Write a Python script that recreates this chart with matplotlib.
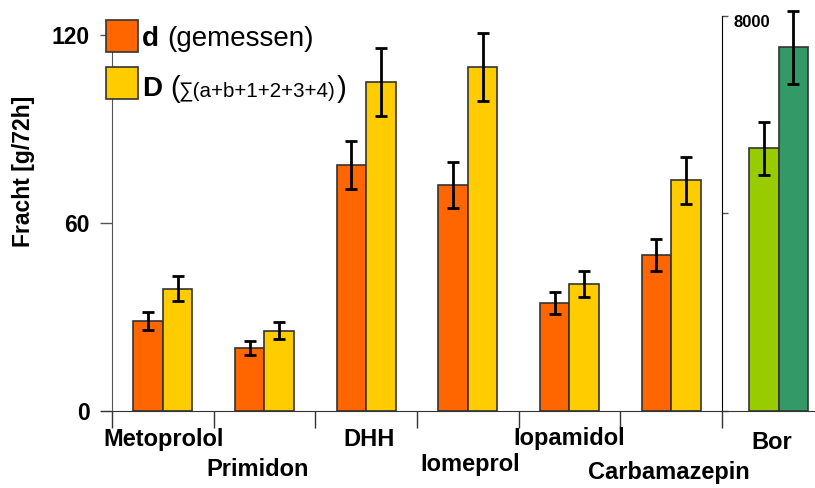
import matplotlib
matplotlib.use("Agg")
import matplotlib.pyplot as plt
from matplotlib.patches import Rectangle
import numpy as np

plt.rcParams['font.family'] = ['Liberation Sans', 'DejaVu Sans']

# ---------------- data ----------------
categories = ["Metoprolol", "Primidon", "DHH", "Iomeprol", "Iopamidol", "Carbamazepin"]
d_gemessen = [28.8, 20.2, 78.5, 72.1, 34.5, 49.8]
d_err = [2.9, 2.2, 7.8, 7.3, 3.5, 5.1]
D_summe = [39.0, 25.6, 105.0, 109.8, 40.5, 73.7]
D_err = [4.0, 2.7, 10.8, 10.8, 4.2, 7.5]

bor_label = "Bor"
bor_values = [5320, 7370]
bor_err = [540, 740]

left_yticks = [0, 60, 120]
right_yticks = [0, 4000, 8000]
right_label = "8000"
y_label = "Fracht [g/72h]"

legend_d = ("d", "(gemessen)")
legend_D = ("D", "(", "\u2211(a+b+1+2+3+4)", ")")

# ---------------- style ----------------
c_d = "#FF6600"
c_D = "#FFCC00"
c_bor = ["#99CC00", "#339966"]
edge = "#333333"
W, H = 815, 488

fig = plt.figure(figsize=(W / 100, H / 100), dpi=100, facecolor="white")

px_per_unit_x = 101.67
# left axes: from px 101 to 722, baseline at px 411
ax1 = fig.add_axes([101 / W, (H - 411) / H, (722 - 101) / W, 125 * 3.133 / H])
ax1.set_xlim(-11 / px_per_unit_x, 6)
ax1.set_ylim(0, 125)

x = np.arange(len(categories)) + 0.5
bw = 0.29
ax1.bar(x - bw / 2, d_gemessen, bw, color=c_d, edgecolor=edge, linewidth=1.2, zorder=2)
ax1.bar(x + bw / 2, D_summe, bw, color=c_D, edgecolor=edge, linewidth=1.2, zorder=2)
ax1.errorbar(x - bw / 2, d_gemessen, yerr=d_err, fmt="none", ecolor="black",
             elinewidth=2, capsize=4, capthick=2, zorder=3)
ax1.errorbar(x + bw / 2, D_summe, yerr=D_err, fmt="none", ecolor="black",
             elinewidth=2, capsize=4, capthick=2, zorder=3)

for s in ["top", "right"]:
    ax1.spines[s].set_visible(False)
ax1.spines["left"].set_position(("data", 0))
ax1.spines["left"].set_bounds(0, 122)
ax1.spines["left"].set_color("#555555")
ax1.spines["bottom"].set_color("#333333")
ax1.set_yticks(left_yticks)
ax1.set_yticklabels([str(v) for v in left_yticks], fontsize=16.5, fontweight="bold")
ax1.tick_params(axis="y", direction="out", length=9, width=1, color="#555555", pad=7)
ax1.set_xticks(np.arange(len(categories) + 1))
ax1.set_xticklabels([])
ax1.tick_params(axis="x", direction="out", length=12, width=1, color="#333333")

fig.text(24 / W, 1 - 171 / H, y_label, rotation=90, ha="center", va="center",
         fontsize=16.5, fontweight="bold")

label_off = [17, 47, 17, 42, 16, 50]
label_dx = [1, -7, 3, 2, 0, -2]
for xi, name, off, dx in zip(x, categories, label_off, label_dx):
    ax1.annotate(name, xy=(xi, 0), xycoords=("data", "axes fraction"),
                 xytext=(dx, -off), textcoords="offset pixels",
                 ha="center", va="top", fontsize=17, fontweight="bold",
                 annotation_clip=False)

# right axes (Bor)
ax2 = fig.add_axes([722 / W, (H - 411) / H, (W - 722) / W, 8200 * 0.04938 / H])
ax2.set_xlim(0, (W - 722) / px_per_unit_x)
ax2.set_ylim(0, 8200)
bc = 0.556
ax2.bar([bc - bw / 2, bc + bw / 2], bor_values, bw, color=c_bor, edgecolor=edge,
        linewidth=1.2, zorder=2)
ax2.errorbar([bc - bw / 2, bc + bw / 2], bor_values, yerr=bor_err, fmt="none",
             ecolor="black", elinewidth=2, capsize=4, capthick=2, zorder=3,
             clip_on=False)
for s in ["top", "right"]:
    ax2.spines[s].set_visible(False)
ax2.spines["left"].set_bounds(0, 8000)
ax2.spines["left"].set_color("black")
ax2.spines["bottom"].set_color("#333333")
ax2.set_yticks(right_yticks)
ax2.set_yticklabels([])
ax2.tick_params(axis="y", direction="in", length=4, width=1, color="#555555")
ax2.set_xticks([])
ax2.annotate(right_label, xy=(0, 8000), xycoords="data", xytext=(11, -7),
             textcoords="offset pixels", ha="left", va="center",
             fontsize=12, fontweight="bold", annotation_clip=False)
ax2.annotate(bor_label, xy=(bc, 0), xycoords=("data", "axes fraction"),
             xytext=(-7, -20), textcoords="offset pixels", ha="center", va="top",
             fontsize=17, fontweight="bold", annotation_clip=False)

# legend (hand-built)
def fx(px):
    return px / W

def fy(py):
    return 1 - py / H

fig.add_artist(Rectangle((fx(106), fy(52)), 32 / W, 32 / H, facecolor=c_d,
                         edgecolor=edge, linewidth=1.2, transform=fig.transFigure, zorder=5))
fig.add_artist(Rectangle((fx(106), fy(99)), 32 / W, 32 / H, facecolor=c_D,
                         edgecolor=edge, linewidth=1.2, transform=fig.transFigure, zorder=5))

fig.text(fx(142), fy(46), legend_d[0], fontsize=20, fontweight="bold", va="baseline")
fig.text(fx(167), fy(46), legend_d[1], fontsize=20, va="baseline")
fig.text(fx(142), fy(96), legend_D[0], fontsize=20, fontweight="bold", va="baseline")
fig.text(fx(170), fy(97), legend_D[1], fontsize=21, va="baseline")
fig.text(fx(179), fy(96), legend_D[2], fontsize=14.8, va="baseline")
fig.text(fx(337), fy(97), legend_D[3], fontsize=21, va="baseline")

fig.savefig("out.png", dpi=100, facecolor="white")
